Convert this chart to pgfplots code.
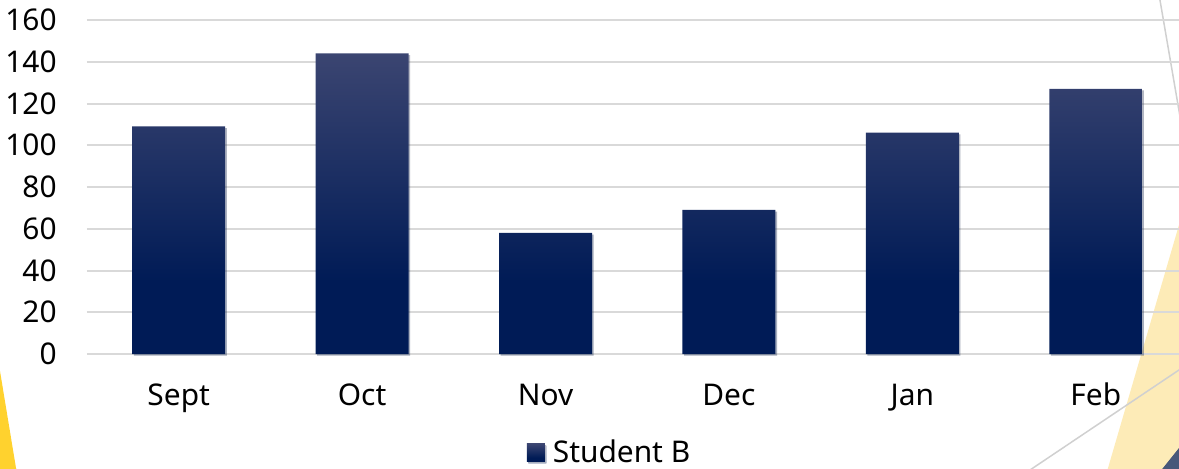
\documentclass[border=0pt]{standalone}
\usepackage{fontspec}
\setmainfont{Noto Sans}
\usepackage{pgfplots}
\pgfplotsset{compat=1.18}
\usetikzlibrary{shadows}
\definecolor{bartop}{HTML}{3B4571}
\definecolor{barbot}{HTML}{001B56}
\definecolor{gridc}{HTML}{D9D9D9}
\definecolor{goldc}{HTML}{FFD22E}
\definecolor{paleyel}{HTML}{FDEBB7}
\definecolor{slatec}{HTML}{48587A}
\definecolor{linec}{HTML}{D0D0D0}
\pgfdeclareverticalshading{barshade}{100bp}{color(0bp)=(barbot); color(25bp)=(barbot); color(37bp)=(barbot); color(75bp)=(bartop); color(100bp)=(bartop)}
\begin{document}
\begin{tikzpicture}[x=1bp,y=1bp]
\useasboundingbox (-43.5,-57) rectangle (546,177);
% decorations
\fill[goldc] (-44,-5.5) -- (-35.5,-57) -- (-35,-58) -- (-44,-58) -- cycle;
\fill[paleyel] (510.5,-57) -- (547,68) -- (560,68) -- (560,-60) -- (509.6,-60) -- cycle;
\draw[linec, line width=0.75bp] (470,-59) -- (550,-5.3);
\fill[slatec] (538,-57) -- (550,-42) -- (550,-60) -- (535.6,-60) -- cycle;
\draw[linec, line width=0.75bp] (536.3,178) -- (546.8,117);
\begin{axis}[
  at={(0,0)}, anchor=south west,
  scale only axis, width=546bp, height=167bp,
  xmin=-0.5, xmax=5.454, ymin=0, ymax=160,
  ytick={0,20,...,160}, xtick={0,...,5},
  xticklabels={Sept,Oct,Nov,Dec,Jan,Feb},
  axis line style={draw=none}, major tick length=0,
  ymajorgrids, grid style={gridc, line width=1bp},
  /pgf/number format/assume math mode=true,
  tick label style={font=\fontsize{15}{18}\selectfont},
  yticklabel style={anchor=east, inner sep=0pt, xshift=-15bp},
  xticklabel style={anchor=base, inner sep=0pt, yshift=-25.5bp},
  clip=false,
  legend style={draw=none, fill=none, at={(0.4776,-0.296)}, anchor=center,
    font=\fontsize{15}{18}\selectfont, inner sep=0pt, nodes={inner sep=0pt},
    column sep=4bp},
]
\addplot[ybar, bar width=46.5bp, draw=none, shade, shading=barshade,
  drop shadow={shadow xshift=0.8bp, shadow yshift=-0.8bp, opacity=0.25},
  legend image code/.code={\path[shade,shading=barshade] (0bp,-4.5bp) rectangle (9bp,4.5bp);}]
  coordinates {(0,109) (1,144) (2,58) (3,69) (4,106) (5,127)};
\addlegendentry{Student B}
\end{axis}
\end{tikzpicture}
\end{document}
